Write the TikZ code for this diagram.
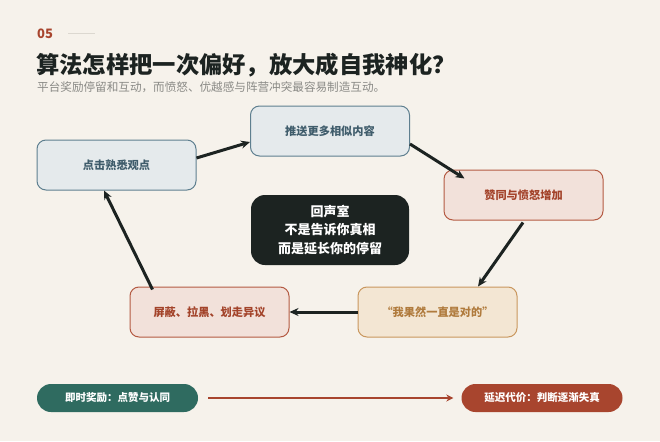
\documentclass[tikz,border=0pt]{standalone}
\usepackage{fontspec}
\setmainfont{Noto Sans CJK SC}
\usetikzlibrary{arrows.meta}
\definecolor{papier}{HTML}{F6F2EB}
\definecolor{encre}{HTML}{1C2321}
\definecolor{bleufond}{HTML}{E5EAEC}
\definecolor{bleubord}{HTML}{5E7F8F}
\definecolor{bleutexte}{HTML}{3F5C6B}
\definecolor{rougefond}{HTML}{F2E1DA}
\definecolor{rougebord}{HTML}{B45A42}
\definecolor{rougetexte}{HTML}{A3432A}
\definecolor{orfond}{HTML}{F3E6D3}
\definecolor{orbord}{HTML}{C9975E}
\definecolor{ortexte}{HTML}{B07B3D}
\definecolor{sarcelle}{HTML}{2F6B60}
\definecolor{rouille}{HTML}{A8452E}
\definecolor{gristexte}{HTML}{8A8A86}
\definecolor{grisligne}{HTML}{DCD8D0}
\begin{document}
\begin{tikzpicture}[
      x=1pt, y=-1pt,
      etape/.style={
        draw,
        line width=1pt,
        rounded corners=9pt,
        minimum width=159pt,
        minimum height=50pt,
        font=\fontsize{11.2}{13}\selectfont\bfseries
      },
      bleu/.style={etape, draw=bleubord, fill=bleufond, text=bleutexte},
      rouge/.style={etape, draw=rougebord, fill=rougefond, text=rougetexte},
      ocre/.style={etape, draw=orbord, fill=orfond, text=ortexte},
      pilule/.style={
        rounded corners=14pt,
        minimum width=161pt,
        minimum height=28pt,
        text=white,
        font=\fontsize{10.5}{12}\selectfont\bfseries
      },
      fleche/.style={
        draw=encre,
        line width=3pt,
        -{Stealth[length=9pt,width=8pt]}
      }
    ]
    \fill[papier] (0,0) rectangle (660,441);
    \useasboundingbox (0,0) rectangle (660,441);
    % en-tete
    \node[anchor=west, text=rouille, font=\fontsize{13}{15}\selectfont\bfseries, inner sep=0pt] (num) at (37,34) {05};
    \draw[grisligne, line width=1pt] (68,34) -- (95,34);
    \node[anchor=west, text=encre, font=\fontsize{23.3}{27}\selectfont\bfseries, inner sep=0pt] (titre) at (36,65) {算法怎样把一次偏好，放大成自我神化？};
    \node[anchor=west, text=gristexte, font=\fontsize{11.6}{13}\selectfont, inner sep=0pt] (soustitre) at (37,87) {平台奖励停留和互动，而愤怒、优越感与阵营冲突最容易制造互动。};
    % boucle
    \node[bleu] (clic) at (116.5,165) {点击熟悉观点};
    \node[bleu] (pousse) at (330,131) {推送更多相似内容};
    \node[rouge] (accord) at (523.5,195) {赞同与愤怒增加};
    \node[ocre] (raison) at (437.5,312) {“我果然一直是对的”};
    \node[rouge] (bloque) at (209.5,312) {屏蔽、拉黑、划走异议};
    \node[fill=encre, rounded corners=14pt, minimum width=158pt, minimum height=70pt,
      text=white, align=center, font=\fontsize{13}{18.5}\selectfont\bfseries] (echo) at (330,230)
      {回声室\\不是告诉你真相\\而是延长你的停留};
    \draw[fleche] ([yshift=7pt]clic.east) -- ([yshift=-11pt]pousse.west);
    \draw[fleche] ([yshift=-13pt]pousse.east) -- ([xshift=21pt,yshift=-9pt]accord.north west);
    \draw[fleche] ([xshift=-0.5pt,yshift=-2pt]accord.south) -- ([xshift=40.5pt]raison.north);
    \draw[fleche] (raison.west) -- (bloque.east);
    \draw[fleche] ([xshift=-57pt,yshift=-3pt]bloque.north) -- ([xshift=-12.5pt]clic.south);
    % bas
    \node[pilule, fill=sarcelle] (recomp) at (117.5,398) {即时奖励：点赞与认同};
    \node[pilule, fill=rouille] (cout) at (542,398) {延迟代价：判断逐渐失真};
    \draw[rouille, line width=2.8pt, -{Stealth[length=7pt,width=7pt]}] ([xshift=10pt]recomp.east) -- ([xshift=-8pt]cout.west);
  \end{tikzpicture}
\end{document}
